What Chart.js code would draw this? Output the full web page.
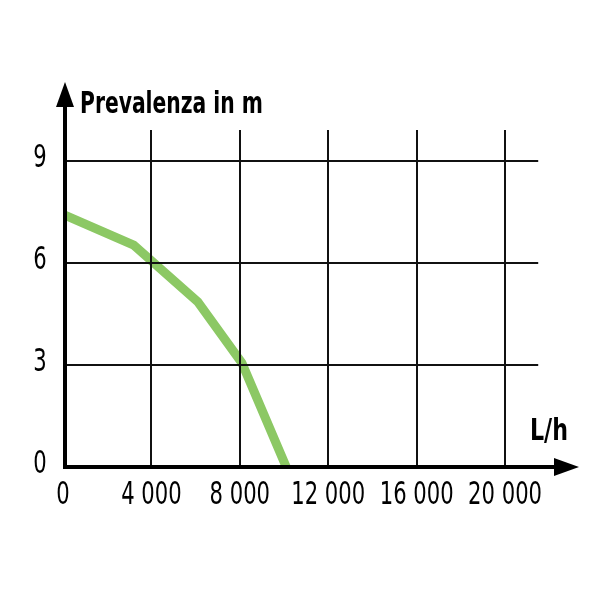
<!DOCTYPE html>
<html>
<head>
<meta charset="utf-8">
<script src="https://cdn.jsdelivr.net/npm/chart.js@4"></script>
<style>
  html, body { margin: 0; padding: 0; background: #fff; }
  #wrap { width: 600px; height: 600px; position: relative; }
</style>
</head>
<body>
<div id="wrap"><canvas id="pump-chart"></canvas></div>
<script>
// Pump curve: flow (L/h) vs head (m)
const flowValues = [0, 3200, 6100, 8100, 10100];
const headValues = [7.42, 6.52, 4.85, 3.05, 0];

const xTicks = [0, 4000, 8000, 12000, 16000, 20000];
const xTickLabels = ['0', '4 000', '8 000', '12 000', '16 000', '20 000'];
const yTicks = [0, 3, 6, 9];
const yTickLabels = ['0', '3', '6', '9'];

const yTitle = 'Prevalenza in m';
const xTitle = 'L/h';

const FONT = "'DejaVu Sans', sans-serif";

// condensed text: squeeze horizontally around the anchor point
function narrowText(ctx, text, x, y, sx, align) {
    ctx.save();
    ctx.translate(x, y);
    ctx.scale(sx, 1);
    ctx.textAlign = align;
    ctx.fillText(text, 0, 0);
    ctx.restore();
}

// text squeezed to a given width, drawn from the left
function fitText(ctx, text, x, y, width) {
    const w = ctx.measureText(text).width;
    narrowText(ctx, text, x, y, width / w, 'left');
}

// grid, axes with arrows and labels
const axesPlugin = {
    id: 'axesPlugin',
    afterDatasetsDraw: (chart) => {
        const ctx = chart.ctx;
        const xs = chart.scales.x;
        const ys = chart.scales.y;
        const x0 = xs.getPixelForValue(0);
        const y0 = ys.getPixelForValue(0);
        const axisX = x0 + 2;

        ctx.save();
        // grid lines (stop short of the arrows)
        ctx.strokeStyle = '#111';
        ctx.lineWidth = 2;
        const gridRight = xs.getPixelForValue(21500);
        const gridTop = ys.getPixelForValue(9.9);
        yTicks.slice(1).forEach(v => {
            const y = Math.round(ys.getPixelForValue(v));
            ctx.beginPath();
            ctx.moveTo(axisX, y);
            ctx.lineTo(gridRight, y);
            ctx.stroke();
        });
        xTicks.slice(1).forEach(v => {
            const x = Math.round(xs.getPixelForValue(v));
            ctx.beginPath();
            ctx.moveTo(x, y0);
            ctx.lineTo(x, gridTop);
            ctx.stroke();
        });

        // axes
        ctx.strokeStyle = '#000';
        ctx.fillStyle = '#000';
        ctx.lineWidth = 4;
        ctx.beginPath();
        ctx.moveTo(axisX, y0 + 2);
        ctx.lineTo(axisX, chart.chartArea.top + 16);
        ctx.moveTo(axisX - 2, y0);
        ctx.lineTo(chart.chartArea.right - 16, y0);
        ctx.stroke();

        // arrow heads
        const top = chart.chartArea.top;
        ctx.beginPath();
        ctx.moveTo(axisX, top - 3);
        ctx.lineTo(axisX + 9, top + 22);
        ctx.lineTo(axisX - 9, top + 22);
        ctx.closePath();
        ctx.fill();
        const right = chart.chartArea.right;
        ctx.beginPath();
        ctx.moveTo(right + 1, y0);
        ctx.lineTo(right - 24, y0 - 9);
        ctx.lineTo(right - 24, y0 + 9);
        ctx.closePath();
        ctx.fill();

        // tick labels
        ctx.font = '32px ' + FONT;
        ctx.textBaseline = 'middle';
        yTicks.forEach((v, i) => {
            narrowText(ctx, yTickLabels[i], 40, ys.getPixelForValue(v) - 2, 0.66, 'center');
        });
        xTicks.forEach((v, i) => {
            narrowText(ctx, xTickLabels[i], xs.getPixelForValue(v), y0 + 29, 0.66, 'center');
        });

        // axis titles
        ctx.font = 'bold 31px ' + FONT;
        ctx.textBaseline = 'alphabetic';
        fitText(ctx, yTitle, 80, 113, 183);
        fitText(ctx, xTitle, 530, 440, 38);
        ctx.restore();
    }
};

new Chart(document.getElementById('pump-chart'), {
    type: 'line',
    data: {
        datasets: [{
            data: flowValues.map((f, i) => ({ x: f, y: headValues[i] })),
            borderColor: '#8cc864',
            borderWidth: 9,
            pointRadius: 0,
            tension: 0,
            fill: false,
            borderJoinStyle: 'round'
        }]
    },
    options: {
        responsive: true,
        maintainAspectRatio: false,
        animation: false,
        layout: { padding: { left: 63, right: 22, top: 85, bottom: 133 } },
        plugins: {
            legend: { display: false },
            tooltip: { enabled: false },
            title: { display: false }
        },
        scales: {
            x: { type: 'linear', min: 0, max: 23300, display: false },
            y: { type: 'linear', min: 0, max: 11.22, display: false }
        }
    },
    plugins: [axesPlugin]
});
</script>
</body>
</html>
